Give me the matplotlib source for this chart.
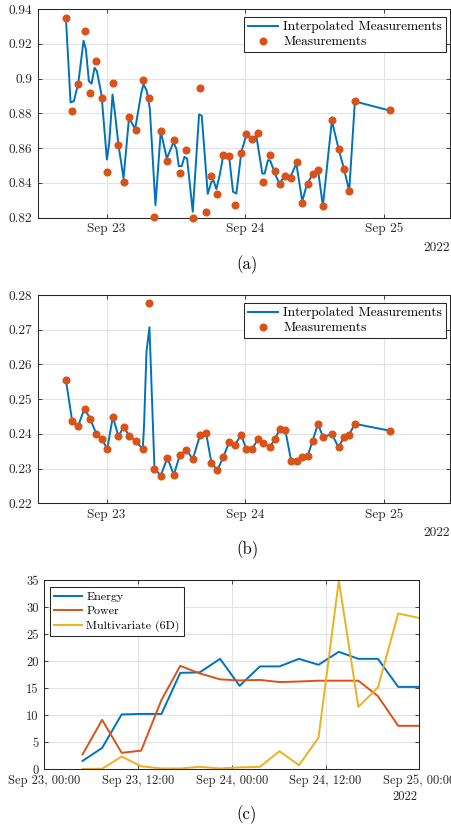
import numpy as np
import pandas as pd
import matplotlib
matplotlib.use('Agg')
import matplotlib.pyplot as plt
import matplotlib.dates as mdates
from matplotlib.ticker import FuncFormatter

plt.rcParams['font.family'] = 'serif'
plt.rcParams['font.serif'] = ['cmr10']
plt.rcParams['axes.unicode_minus'] = False

BLUE = '#0072BD'
ORANGE = '#D95319'
YELLOW = '#EDB120'
DARK = '#262626'

t0 = pd.Timestamp('2022-09-23')

# measurement times, hours after Sep 23 00:00 (shared by (a) and (b))
meas_hours = [-7.02, -5.93, -4.89, -3.80, -2.82, -1.78, -0.81, 0.12, 1.09, 2.07,
              2.94, 3.91, 5.01, 6.27, 7.31, 8.29, 9.38, 10.53, 11.63, 12.66,
              13.81, 14.91, 16.17, 17.21, 18.13, 19.17, 20.20, 21.24, 22.27, 23.25,
              24.17, 25.15, 26.13, 27.11, 28.20, 29.12, 29.99, 30.91, 31.94, 32.92,
              33.84, 34.76, 35.63, 36.55, 37.47, 38.96, 40.11, 41.04, 41.96, 42.94,
              48.98]

# (a) measurements
meas_a = [0.9348, 0.8812, 0.8968, 0.9275, 0.8916, 0.9102, 0.8889, 0.8459, 0.8976, 0.8617,
          0.8405, 0.8780, 0.8703, 0.8991, 0.8885, 0.8202, 0.8697, 0.8528, 0.8647, 0.8455,
          0.8590, 0.8200, 0.8947, 0.8231, 0.8438, 0.8338, 0.8557, 0.8553, 0.8273, 0.8574,
          0.8678, 0.8653, 0.8684, 0.8405, 0.8561, 0.8465, 0.8390, 0.8440, 0.8430, 0.8517,
          0.8284, 0.8392, 0.8448, 0.8476, 0.8265, 0.8759, 0.8597, 0.8482, 0.8353, 0.8868,
          0.8816]

# (a) interpolated curve
interp_a_hours = [-7.02, -6.22, -5.64, -4.89, -3.97, -3.57, -3.05, -2.59, -2.07, -1.67,
                  -0.86, 0.06, 0.46, 1.04, 1.44, 2.07, 2.94, 3.86, 4.26, 4.95,
                  5.99, 6.39, 6.96, 7.48, 8.46, 9.38, 10.42, 11.57, 12.09, 12.49,
                  13.01, 13.47, 13.93, 14.91, 16.00, 16.46, 17.50, 18.13, 18.53, 18.99,
                  19.57, 20.14, 21.18, 21.87, 22.45, 23.31, 24.17, 25.04, 25.90, 26.94,
                  27.34, 27.91, 28.32, 29.35, 29.93, 30.50, 31.94, 32.81, 33.84, 34.65,
                  35.57, 36.55, 37.41, 38.96, 40.11, 41.04, 41.96, 42.94, 48.92]
interp_a = [0.9348, 0.8862, 0.8870, 0.8972, 0.9218, 0.9168, 0.8985, 0.8970, 0.9062, 0.9043,
            0.8905, 0.8534, 0.8626, 0.8908, 0.8805, 0.8617, 0.8425, 0.8764, 0.8751, 0.8709,
            0.8914, 0.8968, 0.8928, 0.8828, 0.8271, 0.8697, 0.8540, 0.8632, 0.8594, 0.8496,
            0.8496, 0.8549, 0.8540, 0.8233, 0.8793, 0.8786, 0.8336, 0.8405, 0.8411, 0.8363,
            0.8444, 0.8549, 0.8555, 0.8348, 0.8338, 0.8578, 0.8674, 0.8655, 0.8670, 0.8453,
            0.8453, 0.8530, 0.8526, 0.8434, 0.8396, 0.8425, 0.8444, 0.8511, 0.8294, 0.8390,
            0.8444, 0.8476, 0.8267, 0.8757, 0.8597, 0.8482, 0.8354, 0.8868, 0.8816]

# (b) measurements
meas_b = [0.2555, 0.2436, 0.2424, 0.2473, 0.2443, 0.2401, 0.2386, 0.2356, 0.2449, 0.2393,
          0.2420, 0.2395, 0.2380, 0.2356, 0.2777, 0.2300, 0.2280, 0.2331, 0.2282, 0.2338,
          0.2354, 0.2327, 0.2396, 0.2403, 0.2317, 0.2295, 0.2334, 0.2377, 0.2369, 0.2398,
          0.2356, 0.2355, 0.2384, 0.2374, 0.2362, 0.2384, 0.2415, 0.2410, 0.2321, 0.2323,
          0.2333, 0.2336, 0.2380, 0.2428, 0.2390, 0.2400, 0.2361, 0.2390, 0.2398, 0.2429,
          0.2409]

# (b) interpolated curve follows the points except around the spike
spike_hours = [6.50, 6.91, 7.42]
spike_vals = [0.2430, 0.2637, 0.2707]
interp_b_hours = meas_hours[:14] + spike_hours + meas_hours[15:]
interp_b = meas_b[:14] + spike_vals + meas_b[15:]

# (c) errors
c_hours = [4.9, 7.4, 9.9, 12.4, 15.0, 17.4, 19.9, 22.5, 25.0, 27.6,
           30.1, 32.6, 35.1, 37.7, 40.2, 42.7, 45.3, 47.9]
energy = [1.5, 3.9, 10.1, 10.2, 10.2, 17.8, 17.9, 20.4, 15.4, 19.0,
          19.0, 20.4, 19.3, 21.7, 20.4, 20.4, 15.2, 15.2]
power = [2.7, 9.1, 3.0, 3.4, 12.8, 19.1, 17.7, 16.6, 16.4, 16.5,
         16.1, 16.2, 16.35, 16.35, 16.35, 13.5, 8.0, 8.0]
multi = [0.0, 0.05, 2.3, 0.5, 0.1, 0.1, 0.4, 0.1, 0.3, 0.4,
         3.3, 0.7, 5.8, 34.9, 11.5, 15.1, 28.8, 28.0]


def to_time(hours):
    return t0 + pd.to_timedelta(hours, unit='h')


def style(ax, fs):
    ax.grid(True, color='#e3e3e3', lw=0.8)
    ax.set_axisbelow(True)
    for s in ax.spines.values():
        s.set_color(DARK)
        s.set_linewidth(0.75)
    ax.tick_params(direction='in', length=3, width=0.6, colors=DARK,
                   top=True, right=True, labelsize=fs, pad=4)
    ax.yaxis.set_major_formatter(FuncFormatter(lambda v, p: f'{v:g}'))


W, H = 451, 825
fig = plt.figure(figsize=(W / 100, H / 100), dpi=100)

ax_a = fig.add_axes([37.7 / W, 1 - 217.5 / H, 411.8 / W, 208.5 / H])
ax_b = fig.add_axes([37.7 / W, 1 - 503.3 / H, 411.8 / W, 208.3 / H])
ax_c = fig.add_axes([44.3 / W, 1 - 769 / H, 375 / W, 189 / H])

xl = (t0 + pd.Timedelta(hours=-11.9), t0 + pd.Timedelta(hours=59.3))
day_ticks = [t0 + pd.Timedelta(days=d) for d in range(3)]

panels = [(ax_a, interp_a_hours, interp_a, meas_a, (0.82, 0.94), np.arange(0.82, 0.941, 0.02)),
          (ax_b, interp_b_hours, interp_b, meas_b, (0.22, 0.28), np.arange(0.22, 0.281, 0.01))]

for ax, lh, lv, mv, yl, yt in panels:
    ax.plot(to_time(lh), lv, color=BLUE, lw=1.4, label='Interpolated Measurements')
    ax.plot(to_time(meas_hours), mv, 'o', color=ORANGE, ms=4.8, mec=ORANGE,
            clip_on=False, zorder=3, label='Measurements')
    style(ax, 9.6)
    ax.set_xlim(*xl)
    ax.set_ylim(*yl)
    ax.set_yticks(yt)
    ax.set_xticks(day_ticks)
    ax.xaxis.set_major_formatter(mdates.DateFormatter('%b %d'))
    ax.text(1.0, -0.115, '2022', transform=ax.transAxes, ha='right', va='top',
            fontsize=9.6, color=DARK)
    leg = ax.legend(loc='upper right', bbox_to_anchor=(0.9915, 0.963), borderaxespad=0,
                    fancybox=False, edgecolor=DARK, framealpha=1, fontsize=9.6,
                    handlelength=2.2, handletextpad=0.4, labelspacing=0.2, borderpad=0.3)
    leg.get_frame().set_linewidth(0.75)

# (c)
ct = to_time(c_hours)
ax_c.plot(ct, energy, color=BLUE, lw=1.4, label='Energy')
ax_c.plot(ct, power, color=ORANGE, lw=1.4, label='Power')
ax_c.plot(ct, multi, color=YELLOW, lw=1.4, label='Multivariate (6D)', clip_on=False)
style(ax_c, 9)
ax_c.set_xlim(t0, t0 + pd.Timedelta(hours=48))
ax_c.set_ylim(0, 35)
ax_c.set_yticks(range(0, 36, 5))
ax_c.set_xticks([t0 + pd.Timedelta(hours=h) for h in range(0, 49, 12)])
ax_c.xaxis.set_major_formatter(mdates.DateFormatter('%b %d, %H:%M'))
ax_c.text(0.995, -0.115, '2022', transform=ax_c.transAxes, ha='right', va='top',
          fontsize=9, color=DARK)
leg = ax_c.legend(loc='upper left', bbox_to_anchor=(0.015, 0.961), borderaxespad=0,
                  fancybox=False, edgecolor=DARK, framealpha=1, fontsize=8.6,
                  handlelength=2.3, handletextpad=0.4, labelspacing=0.35, borderpad=0.35)
leg.get_frame().set_linewidth(0.75)

fig.text(247 / W, 1 - 264.5 / H, '(a)', ha='center', va='center', fontsize=12)
fig.text(247 / W, 1 - 550 / H, '(b)', ha='center', va='center', fontsize=12)
fig.text(247 / W, 1 - 815 / H, '(c)', ha='center', va='center', fontsize=12)

fig.savefig('out.png', dpi=100)
